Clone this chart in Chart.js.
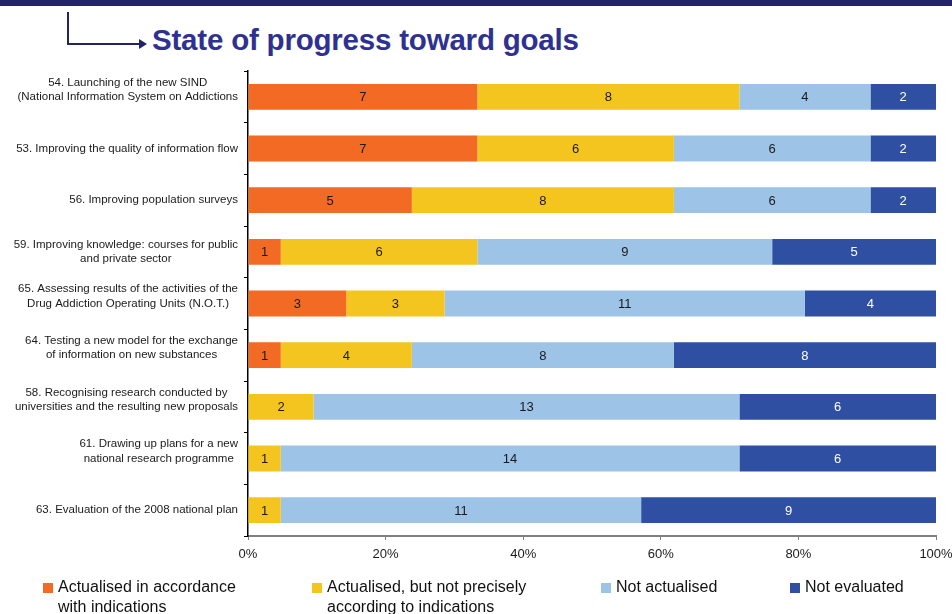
<!DOCTYPE html>
<html>
<head>
<meta charset="utf-8">
<title>State of progress toward goals</title>
<script src="https://cdn.jsdelivr.net/npm/chart.js@4.4.1/dist/chart.umd.min.js"></script>
<style>
  html, body { margin: 0; padding: 0; background: #fff; }
  body { width: 952px; height: 614px; position: relative; overflow: hidden; font-family: "Liberation Sans", Arial, sans-serif; }
  .topbar { position: absolute; left: 0; top: 0; width: 952px; height: 6px; background: #232466; }
  .arrow { position: absolute; left: 67px; top: 12px; width: 74px; height: 31px; border-left: 2px solid #232466; border-bottom: 2px solid #232466; }
  .arrowhead { position: absolute; left: 139px; top: 39px; width: 0; height: 0; border-top: 5px solid transparent; border-bottom: 5px solid transparent; border-left: 8px solid #232466; }
  h1 { position: absolute; left: 152px; top: 23px; margin: 0; font-size: 29.5px; font-weight: bold; color: #2E3192; letter-spacing: -0.2px; }
  #wrap { position: absolute; left: 0; top: 0; width: 952px; height: 614px; }
  .legend { position: absolute; top: 577px; font-size: 16px; line-height: 20px; color: #111; }
  .legend span { position: absolute; left: 0; top: 6px; width: 10px; height: 10px; }
  .legend div { padding-left: 15px; white-space: nowrap; }
</style>
</head>
<body>
<div class="topbar"></div>
<div class="arrow"></div>
<div class="arrowhead"></div>
<h1>State of progress toward goals</h1>
<div id="wrap"><canvas id="progressChart"></canvas></div>
<div id="legend"></div>

<script>
// Goals, top to bottom (an empty trailing string keeps the original line break)
const goals = [
    ['54. Launching of the new SIND', '(National Information System on Addictions', ''],
    ['53. Improving the quality of information flow'],
    ['56. Improving population surveys'],
    ['59. Improving knowledge: courses for public', 'and private sector'],
    ['65. Assessing results of the activities of the', 'Drug Addiction Operating Units (N.O.T.)', ''],
    ['64. Testing a new model for the exchange', 'of information on new substances', ''],
    ['58. Recognising research conducted by', 'universities and the resulting new proposals', ''],
    ['61. Drawing up plans for a new', 'national research programme', ''],
    ['63. Evaluation of the 2008 national plan']
];

// Number of projects per status
const actualised = [7, 7, 5, 1, 3, 1, 0, 0, 0];
const actualisedPartly = [8, 6, 8, 6, 3, 4, 2, 1, 1];
const notActualised = [4, 6, 6, 9, 11, 8, 13, 14, 11];
const notEvaluated = [2, 2, 2, 5, 4, 8, 6, 6, 9];

const statusNames = [
    ['Actualised in accordance', 'with indications'],
    ['Actualised, but not precisely', 'according to indications'],
    ['Not actualised'],
    ['Not evaluated']
];
const statusColors = ['#F26A23', '#F5C51F', '#9DC3E6', '#2E4FA2'];
const labelColors = ['#1a1a1a', '#1a1a1a', '#1a1a1a', '#ffffff'];
const xTicks = [0, 20, 40, 60, 80, 100];

const counts = [actualised, actualisedPartly, notActualised, notEvaluated];
const totals = goals.map((g, i) => counts.reduce((s, arr) => s + arr[i], 0));

// Legend below the chart
const legendX = [43, 312, 601, 790];
const legendEl = document.getElementById('legend');
statusNames.forEach((name, i) => {
    const item = document.createElement('div');
    item.className = 'legend';
    item.style.left = legendX[i] + 'px';
    item.innerHTML = '<span style="background:' + statusColors[i] + '"></span><div>' + name.join('<br>') + '</div>';
    legendEl.appendChild(item);
});

// Value of each segment, written in the middle of the bar
const segmentLabels = {
    id: 'segmentLabels',
    afterDatasetsDraw(chart) {
        const ctx = chart.ctx;
        ctx.save();
        ctx.font = '13px "Liberation Sans", Arial, sans-serif';
        ctx.textAlign = 'center';
        ctx.textBaseline = 'middle';
        chart.data.datasets.forEach((ds, i) => {
            chart.getDatasetMeta(i).data.forEach((bar, j) => {
                const v = counts[i][j];
                if (!v) return;
                ctx.fillStyle = labelColors[i];
                ctx.fillText(v, (bar.x + bar.base) / 2, bar.y + 1);
            });
        });
        ctx.restore();
    }
};

// Goal names: block right-aligned to the axis, lines centred inside the block
const goalLabels = {
    id: 'goalLabels',
    afterDraw(chart) {
        const ctx = chart.ctx;
        const yScale = chart.scales.y;
        const right = yScale.right - 10;
        const lineHeight = 14.5;
        ctx.save();
        ctx.font = '11.5px "Liberation Sans", Arial, sans-serif';
        ctx.fillStyle = '#1a1a1a';
        ctx.textAlign = 'center';
        ctx.textBaseline = 'middle';
        goals.forEach((lines, i) => {
            const y = yScale.getPixelForValue(i);
            const w = Math.max(...lines.map(l => ctx.measureText(l).width));
            const cx = right - w / 2;
            const top = y - (lines.length - 1) * lineHeight / 2;
            lines.forEach((l, k) => ctx.fillText(l, cx, top + k * lineHeight));
        });
        ctx.restore();
    }
};

const ctx = document.getElementById('progressChart').getContext('2d');
new Chart(ctx, {
    type: 'bar',
    data: {
        labels: goals.map(g => g.join(' ')),
        datasets: counts.map((arr, i) => ({
            label: statusNames[i].join(' '),
            data: arr.map((v, j) => v / totals[j] * 100),
            backgroundColor: statusColors[i],
            borderWidth: 0,
            barPercentage: 0.5,
            categoryPercentage: 1
        }))
    },
    options: {
        indexAxis: 'y',
        responsive: true,
        maintainAspectRatio: false,
        animation: false,
        layout: {
            padding: { top: 71, right: 16, bottom: 48, left: 0 }
        },
        plugins: {
            legend: { display: false },
            tooltip: { enabled: false }
        },
        scales: {
            x: {
                stacked: true,
                min: 0,
                max: 100,
                afterBuildTicks: scale => { scale.ticks = xTicks.map(v => ({ value: v })); },
                afterFit: scale => {
                    scale.height = 30;
                    scale.paddingLeft = 0;
                    scale.paddingRight = 0;
                },
                ticks: {
                    callback: v => v + '%',
                    color: '#1a1a1a',
                    font: { family: '"Liberation Sans", Arial, sans-serif', size: 13 },
                    padding: 7,
                    maxRotation: 0
                },
                grid: { drawOnChartArea: false, tickLength: 4, color: '#808080' },
                border: { color: '#808080', width: 2 }
            },
            y: {
                stacked: true,
                afterFit: scale => { scale.width = 248; },
                ticks: { display: false },
                grid: { drawOnChartArea: false, tickLength: 4, color: '#000', offset: true },
                border: { color: '#000', width: 1.5 }
            }
        }
    },
    plugins: [segmentLabels, goalLabels]
});
</script>
</body>
</html>
